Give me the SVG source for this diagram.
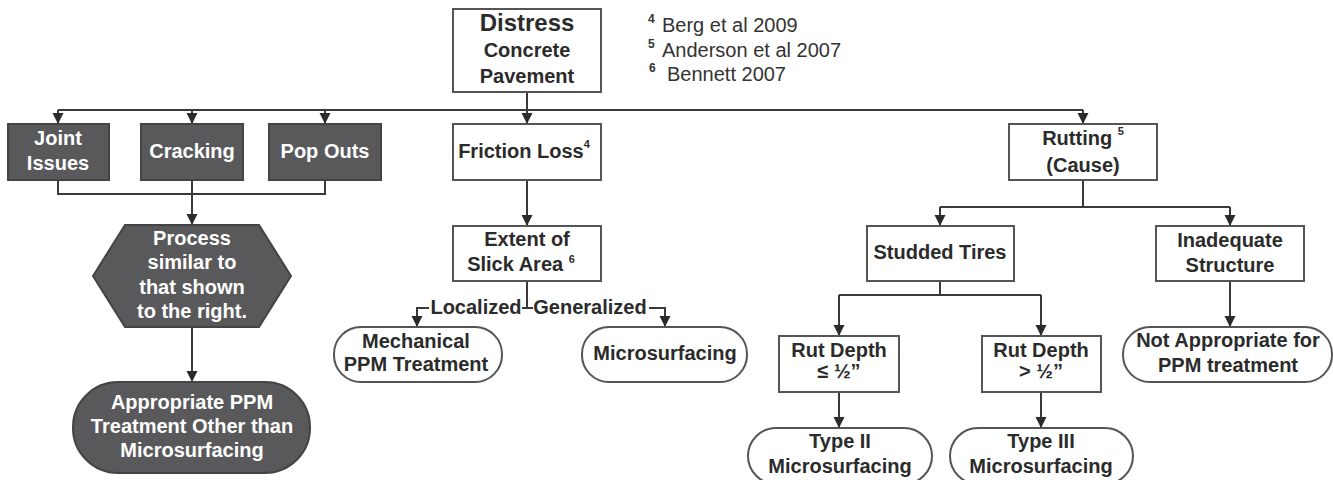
<svg xmlns="http://www.w3.org/2000/svg" width="1333" height="480" viewBox="0 0 1333 480">
<style>
.bx{fill:#fff;stroke:#555;stroke-width:2}
.dk{fill:#59595b;stroke:#444;stroke-width:2}
.t{font-family:"Liberation Sans",Arial,sans-serif;font-weight:bold;font-size:20px;fill:#2b2b2b;text-anchor:middle}
.w{fill:#fff}
.sup{font-size:11px}
.ref{font-family:"Liberation Sans",Arial,sans-serif;font-size:20px;fill:#333}
.rs{font-size:12px;font-weight:bold}
.c{fill:none;stroke:#3a3a3a;stroke-width:2}
</style>
<defs>
<marker id="ah" markerUnits="userSpaceOnUse" markerWidth="12" markerHeight="12" refX="11" refY="6" orient="auto">
<path d="M0,0.5 L11,6 L0,11.5 z" fill="#2b2b2b"/>
</marker>
</defs>
<rect width="1333" height="480" fill="#fff"/>

<g id="connectors">
<path class="c" d="M527,92 V110"/>
<path class="c" d="M58,110 H1083"/>
<path class="c" d="M58,110 V124" marker-end="url(#ah)"/>
<path class="c" d="M192,110 V124" marker-end="url(#ah)"/>
<path class="c" d="M325,110 V124" marker-end="url(#ah)"/>
<path class="c" d="M527,110 V124" marker-end="url(#ah)"/>
<path class="c" d="M1083,110 V124" marker-end="url(#ah)"/>
<path class="c" d="M58,180 V194 H325 V180"/>
<path class="c" d="M192,180 V225" marker-end="url(#ah)"/>
<path class="c" d="M192,327 V382" marker-end="url(#ah)"/>
<path class="c" d="M527,180 V226" marker-end="url(#ah)"/>
<path class="c" d="M527,281 V308"/>
<path class="c" d="M429,308 H417 V327" marker-end="url(#ah)"/>
<path class="c" d="M522,308 H533"/>
<path class="c" d="M649,308 H665 V327" marker-end="url(#ah)"/>
<path class="c" d="M1083,180 V207"/>
<path class="c" d="M940,207 H1230"/>
<path class="c" d="M940,207 V226" marker-end="url(#ah)"/>
<path class="c" d="M1230,207 V226" marker-end="url(#ah)"/>
<path class="c" d="M940,281 V295"/>
<path class="c" d="M839,295 H1041"/>
<path class="c" d="M839,295 V336" marker-end="url(#ah)"/>
<path class="c" d="M1041,295 V336" marker-end="url(#ah)"/>
<path class="c" d="M1230,281 V327" marker-end="url(#ah)"/>
<path class="c" d="M839,392 V428" marker-end="url(#ah)"/>
<path class="c" d="M1041,392 V428" marker-end="url(#ah)"/>
<text class="t" x="476" y="314">Localized</text>
<text class="t" x="590" y="314">Generalized</text>
</g>

<g id="distress">
<rect class="bx" x="453" y="9" width="148" height="83"/>
<text class="t" x="527" y="31" style="font-size:24px">Distress</text>
<text class="t" x="527" y="57">Concrete</text>
<text class="t" x="527" y="83">Pavement</text>
</g>

<g id="references">
<text class="ref" x="648" y="23"><tspan class="rs">4</tspan></text>
<text class="ref" x="662" y="32">Berg et al 2009</text>
<text class="ref" x="648" y="48"><tspan class="rs">5</tspan></text>
<text class="ref" x="662" y="57">Anderson et al 2007</text>
<text class="ref" x="649" y="72"><tspan class="rs">6</tspan></text>
<text class="ref" x="667" y="81">Bennett 2007</text>
</g>

<g id="joint">
<rect class="dk" x="8" y="124" width="101" height="56"/>
<text class="t w" x="58" y="145">Joint</text>
<text class="t w" x="58" y="170">Issues</text>
</g>
<g id="cracking">
<rect class="dk" x="141" y="124" width="102" height="56"/>
<text class="t w" x="192" y="158">Cracking</text>
</g>
<g id="popouts">
<rect class="dk" x="269" y="124" width="112" height="56"/>
<text class="t w" x="325" y="158">Pop Outs</text>
</g>

<g id="process">
<polygon class="dk" points="93,276 125,225 259,225 291,276 259,327 125,327"/>
<text class="t w" x="192" y="245">Process</text>
<text class="t w" x="192" y="269">similar to</text>
<text class="t w" x="192" y="294">that shown</text>
<text class="t w" x="192" y="318">to the right.</text>
</g>

<g id="appropriate">
<rect class="dk" x="73" y="382" width="237" height="91" rx="45" ry="45"/>
<text class="t w" x="192" y="409">Appropriate PPM</text>
<text class="t w" x="192" y="433">Treatment Other than</text>
<text class="t w" x="192" y="457">Microsurfacing</text>
</g>

<g id="friction">
<rect class="bx" x="453" y="124" width="148" height="56"/>
<text class="t" x="524" y="158">Friction Loss<tspan class="sup" dy="-10">4</tspan></text>
</g>

<g id="extent">
<rect class="bx" x="453" y="226" width="148" height="55"/>
<text class="t" x="527" y="246">Extent of</text>
<text class="t" x="521" y="271">Slick Area <tspan class="sup" dy="-8">6</tspan></text>
</g>

<g id="mechanical">
<rect class="bx" x="334" y="327" width="168" height="55" rx="27" ry="27"/>
<text class="t" x="416" y="348">Mechanical</text>
<text class="t" x="416" y="371">PPM Treatment</text>
</g>

<g id="microsurfacing">
<rect class="bx" x="582" y="327" width="165" height="55" rx="27" ry="27"/>
<text class="t" x="665" y="360">Microsurfacing</text>
</g>

<g id="rutting">
<rect class="bx" x="1009" y="124" width="148" height="56"/>
<text class="t" x="1083" y="145">Rutting <tspan class="sup" dy="-10">5</tspan></text>
<text class="t" x="1083" y="172">(Cause)</text>
</g>

<g id="studded">
<rect class="bx" x="867" y="226" width="147" height="55"/>
<text class="t" x="940" y="259">Studded Tires</text>
</g>

<g id="inadequate">
<rect class="bx" x="1156" y="226" width="148" height="55"/>
<text class="t" x="1230" y="247">Inadequate</text>
<text class="t" x="1230" y="272">Structure</text>
</g>

<g id="notappropriate">
<rect class="bx" x="1123" y="327" width="209" height="55" rx="27" ry="27"/>
<text class="t" x="1228" y="347">Not Appropriate for</text>
<text class="t" x="1228" y="372">PPM treatment</text>
</g>

<g id="rutdepth-le">
<rect class="bx" x="779" y="336" width="120" height="56"/>
<text class="t" x="839" y="357">Rut Depth</text>
<text class="t" x="839" y="378">≤ ½”</text>
</g>

<g id="rutdepth-gt">
<rect class="bx" x="982" y="336" width="119" height="56"/>
<text class="t" x="1041" y="357">Rut Depth</text>
<text class="t" x="1041" y="378">&gt; ½”</text>
</g>

<g id="type2">
<rect class="bx" x="748" y="428" width="184" height="56" rx="28" ry="28"/>
<text class="t" x="840" y="448">Type II</text>
<text class="t" x="840" y="473">Microsurfacing</text>
</g>

<g id="type3">
<rect class="bx" x="950" y="428" width="183" height="56" rx="28" ry="28"/>
<text class="t" x="1041" y="448">Type III</text>
<text class="t" x="1041" y="473">Microsurfacing</text>
</g>
</svg>
